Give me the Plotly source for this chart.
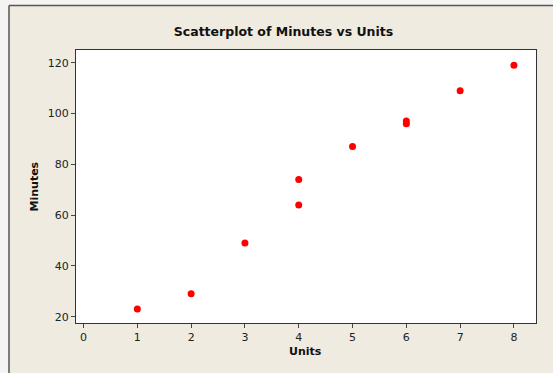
import plotly.graph_objects as go

# data
units = [1, 2, 3, 4, 4, 5, 6, 6, 7, 8]
minutes = [23, 29, 49, 64, 74, 87, 96, 97, 109, 119]

x_ticks = [0, 1, 2, 3, 4, 5, 6, 7, 8]
y_ticks = [20, 40, 60, 80, 100, 120]

W, H = 553, 373
L, R, T, B = 76, 17, 50, 50
pw = W - L - R
ph = H - T - B

font_family = "DejaVu Sans"


def px_x(p):
    return (p - L) / pw


def px_y(p):
    return (T + ph - p) / ph


fig = go.Figure()
fig.add_trace(go.Scatter(
    x=units, y=minutes, mode="markers",
    marker=dict(color="#ff0000", size=7, line=dict(width=0)),
    showlegend=False, cliponaxis=False,
))

# light strips outside the beige window, plus the window border
outside = "#f4f4f3"
fig.add_shape(type="rect", xref="paper", yref="paper", layer="below",
              x0=px_x(-5), x1=px_x(9), y0=px_y(H + 10), y1=px_y(-5),
              fillcolor=outside, line=dict(width=0))
fig.add_shape(type="rect", xref="paper", yref="paper", layer="below",
              x0=px_x(-5), x1=px_x(W + 10), y0=px_y(5.5), y1=px_y(-5),
              fillcolor=outside, line=dict(width=0))
fig.add_shape(type="line", xref="paper", yref="paper",
              x0=px_x(9), x1=px_x(9), y0=px_y(H + 10), y1=px_y(5.5),
              line=dict(color="#555555", width=1.5))
fig.add_shape(type="line", xref="paper", yref="paper",
              x0=px_x(9), x1=px_x(W + 10), y0=px_y(5.5), y1=px_y(5.5),
              line=dict(color="#555555", width=1.5))

fig.add_annotation(text="<b>Minutes</b>", xref="paper", yref="paper",
                   x=px_x(33.5), y=px_y(187), textangle=-90, showarrow=False,
                   xanchor="center", yanchor="middle", font=dict(size=11, color="#111111"))
fig.add_annotation(text="<b>Units</b>", xref="paper", yref="paper",
                   x=px_x(305), y=px_y(351), showarrow=False,
                   xanchor="center", yanchor="middle", font=dict(size=11, color="#111111"))

fig.update_layout(
    width=W, height=H,
    margin=dict(l=L, r=R, t=T, b=B),
    paper_bgcolor="#efebe0",
    plot_bgcolor="white",
    font=dict(family=font_family, size=11, color="#222222"),
    title=dict(text="<b>Scatterplot of Minutes vs Units</b>",
               x=283.5 / W, y=1 - 32 / H, xanchor="center", yanchor="middle",
               font=dict(size=12.5, color="#111111")),
)
fig.update_xaxes(
    range=[-0.14, 8.41], tickvals=x_ticks, showgrid=False, zeroline=False,
    showline=True, linecolor="#333333", linewidth=1, mirror=True,
    ticks="outside", ticklen=4, tickcolor="#444444",
)
fig.update_yaxes(
    range=[17.5, 125], tickvals=y_ticks, showgrid=False, zeroline=False,
    showline=True, linecolor="#333333", linewidth=1, mirror=True,
    ticks="outside", ticklen=4, tickcolor="#444444",
)

# page body has a default margin; drop it so the figure sits at the window corner
fig.write_html("out.html", config={"displayModeBar": False},
               post_script="document.body.style.margin='0';")
